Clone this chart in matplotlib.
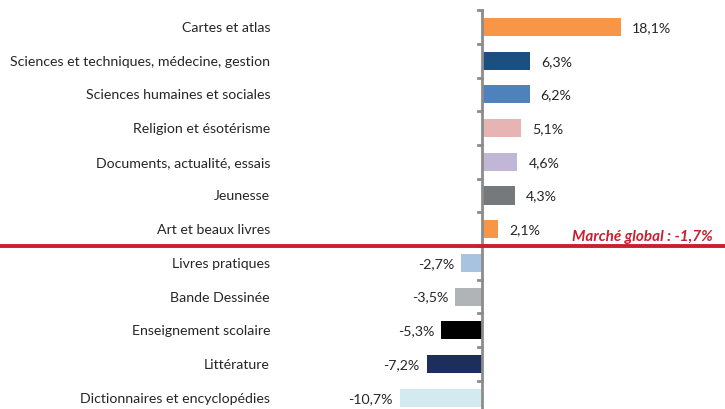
import matplotlib.pyplot as plt
from matplotlib.transforms import blended_transform_factory

# données
categories = ['Cartes et atlas', 'Sciences et techniques, médecine, gestion',
              'Sciences humaines et sociales', 'Religion et ésotérisme',
              'Documents, actualité, essais', 'Jeunesse', 'Art et beaux livres',
              'Livres pratiques', 'Bande Dessinée', 'Enseignement scolaire',
              'Littérature', 'Dictionnaires et encyclopédies']
values = [18.1, 6.3, 6.2, 5.1, 4.6, 4.3, 2.1, -2.7, -3.5, -5.3, -7.2, -10.7]
labels = ['18,1%', '6,3%', '6,2%', '5,1%', '4,6%', '4,3%', '2,1%',
          '-2,7%', '-3,5%', '-5,3%', '-7,2%', '-10,7%']
colors = ['#F79646', '#1B4F80', '#4F81BD', '#E5B4B3', '#C2B6D6', '#76797C',
          '#F79646', '#A8C3E0', '#B1B4B6', '#000000', '#1E2E5C', '#D2EAF0']
global_label = 'Marché global : -1,7%'

plt.rcParams['font.family'] = ['Lato', 'DejaVu Sans']

fig = plt.figure(figsize=(7.25, 4.1), dpi=100)
ax = fig.add_axes([0, 0, 1, 1])

y = list(range(len(categories)))
ax.barh(y, values, height=0.54, color=colors)

# axe vertical + graduations
n = len(categories)
ax.plot([0, 0], [-0.52, n], color='#8C8C8C', lw=2, solid_capstyle='butt', zorder=3)
for i in range(n):
    ax.plot([-0.5, 0], [i - 0.5, i - 0.5], color='#8C8C8C', lw=2, zorder=3)

# ligne marché global
ax.axhline(6.5, color='#C8202F', lw=2.8, zorder=4)
ax.text(30.0, 6.2, global_label, color='#C8202F', fontsize=11, fontweight='bold',
        fontstyle='italic', ha='right', va='center')

# libellés
trans = blended_transform_factory(fig.transFigure, ax.transData)
for i, (cat, v, lab) in enumerate(zip(categories, values, labels)):
    ax.text(270 / 725, i, cat, transform=trans, ha='right', va='center',
            fontsize=10.2, color='#262626')
    if v >= 0:
        ax.annotate(lab, (v, i), xytext=(8, 0), textcoords='offset points',
                    ha='left', va='center', fontsize=10.2, color='#262626')
    else:
        ax.annotate(lab, (v, i), xytext=(-5, 0), textcoords='offset points',
                    ha='right', va='center', fontsize=10.2, color='#262626')

ax.set_xlim(-482 / 7.68, (725 - 482) / 7.68)
ax.set_ylim((410 - 28) / 33.7, -28 / 33.7)
ax.axis('off')

fig.savefig('out.png', dpi=100)
